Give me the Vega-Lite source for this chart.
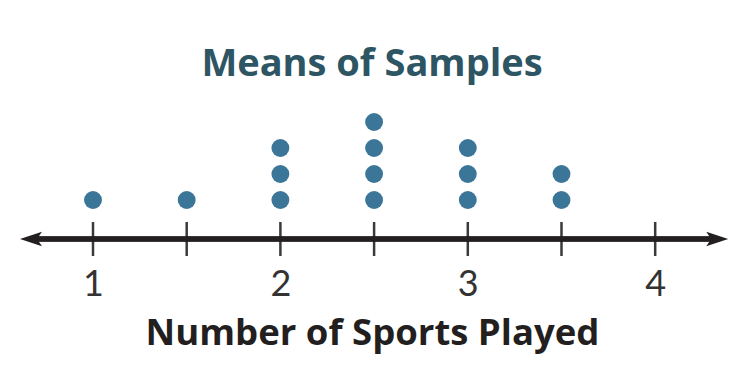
{
  "$schema": "https://vega.github.io/schema/vega-lite/v6.json",
  "autosize": {"type": "none"},
  "width": 744,
  "height": 160,
  "padding": {"left": 0, "right": 0, "top": 100, "bottom": 118},
  "background": "white",
  "config": {"view": {"stroke": null}},
  "title": {
    "text": "Means of Samples",
    "font": "Open Sans",
    "fontSize": 38,
    "fontWeight": "bold",
    "color": "#2e5563",
    "anchor": "middle",
    "baseline": "alphabetic",
    "offset": -14
  },
  "datasets": {
    "means": [
      {"mean": 1},
      {"mean": 1.5},
      {"mean": 2}, {"mean": 2}, {"mean": 2},
      {"mean": 2.5}, {"mean": 2.5}, {"mean": 2.5}, {"mean": 2.5},
      {"mean": 3}, {"mean": 3}, {"mean": 3},
      {"mean": 3.5}, {"mean": 3.5}
    ],
    "ticks": [
      {"tick": 1}, {"tick": 1.5}, {"tick": 2}, {"tick": 2.5},
      {"tick": 3}, {"tick": 3.5}, {"tick": 4}
    ]
  },
  "layer": [
    {
      "data": {"name": "ticks"},
      "mark": {"type": "rule", "color": "#3a3a3a", "strokeWidth": 2.5},
      "encoding": {
        "x": {
          "field": "tick",
          "type": "quantitative",
          "scale": {"domain": [0.5037, 4.4739], "nice": false, "zero": false},
          "axis": {
            "values": [1, 2, 3, 4],
            "format": "d",
            "domain": false,
            "ticks": false,
            "tickSize": 0,
            "grid": false,
            "labelFont": "Lato",
            "labelFontSize": 36,
            "labelColor": "#333333",
            "labelBaseline": "alphabetic",
            "labelPadding": 35,
            "title": "Number of Sports Played",
            "titleFont": "Open Sans",
            "titleFontSize": 36.5,
            "titleFontWeight": "bold",
            "titleColor": "#231f20",
            "titlePadding": 13
          }
        },
        "y": {"datum": 0.154, "type": "quantitative", "scale": {"domain": [-1.3077, 4.846], "nice": false, "zero": false}, "axis": null},
        "y2": {"datum": -1.154}
      }
    },
    {
      "data": {"name": "ticks"},
      "mark": {"type": "rule", "color": "#231f20", "strokeWidth": 4.5},
      "encoding": {
        "x": {"datum": 0.7, "type": "quantitative"},
        "x2": {"datum": 4.3},
        "y": {"datum": -0.5, "type": "quantitative"}
      }
    },
    {
      "data": {"values": [{"end": "left"}]},
      "mark": {"type": "point", "filled": true, "color": "#231f20", "opacity": 1, "size": 484, "shape": "M -1 0 L 1 -0.65 L 0.55 0 L 1 0.65 Z"},
      "encoding": {
        "x": {"datum": 0.669, "type": "quantitative"},
        "y": {"datum": -0.5, "type": "quantitative"}
      }
    },
    {
      "data": {"values": [{"end": "right"}]},
      "mark": {"type": "point", "filled": true, "color": "#231f20", "opacity": 1, "size": 484, "shape": "M 1 0 L -1 -0.65 L -0.55 0 L -1 0.65 Z"},
      "encoding": {
        "x": {"datum": 4.331, "type": "quantitative"},
        "y": {"datum": -0.5, "type": "quantitative"}
      }
    },
    {
      "data": {"name": "means"},
      "transform": [
        {"window": [{"op": "row_number", "as": "level"}], "groupby": ["mean"]}
      ],
      "mark": {"type": "circle", "color": "#3b7597", "opacity": 1, "size": 320},
      "encoding": {
        "x": {"field": "mean", "type": "quantitative"},
        "y": {"field": "level", "type": "quantitative"}
      }
    }
  ]
}
